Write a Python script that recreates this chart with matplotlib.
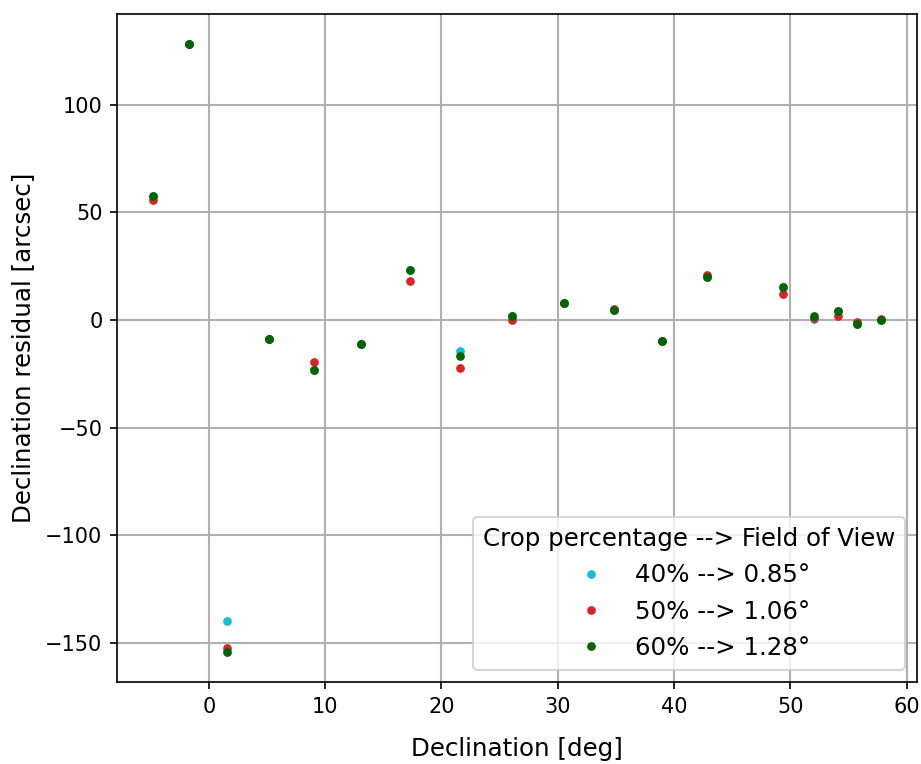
import matplotlib
matplotlib.use("Agg")
import matplotlib.pyplot as plt

dec = [-4.8, -1.7, 1.6, 5.2, 9.0, 13.05, 17.3, 21.6, 26.05, 30.5, 34.8, 39.0, 42.85, 49.4, 52.0, 54.1, 55.7, 57.8]
res_40 = [57.5, 128.0, -139.5, -8.8, -23.0, -11.3, 23.2, -14.4, 2.0, 7.9, 4.5, -9.7, 20.0, 15.2, 0.5, 4.3, -2.0, -0.2]
res_50 = [55.7, 128.0, -152.4, -8.8, -19.5, -11.3, 18.1, -22.3, -0.1, 7.7, 4.9, -9.7, 20.7, 12.1, 0.8, 2.0, -1.1, 0.4]
res_60 = [57.5, 128.0, -154.0, -8.8, -23.0, -11.3, 23.2, -16.7, 2.0, 7.7, 4.5, -9.7, 20.0, 15.2, 1.7, 4.3, -2.0, -0.2]
labels = ["40% --> 0.85°", "50% --> 1.06°", "60% --> 1.28°"]
colors = ["#17becf", "#d62728", "darkgreen"]

fig = plt.figure(figsize=(921/150, 764/150), dpi=150)
ax = fig.add_axes([117/921, 1-682/764, 800/921, 668/764])
for ys, lab, c in zip([res_40, res_50, res_60], labels, colors):
    ax.plot(dec, ys, 'o', ms=4.2, mew=0, color=c, label=lab, zorder=3)
ax.set_xlim(-7.9, 60.9)
ax.set_ylim(-168, 142)
ax.grid(True, color='#b0b0b0', lw=1)
ax.set_axisbelow(True)
ax.tick_params(labelsize=10)
ax.set_xlabel("Declination [deg]", fontsize=11.75, labelpad=10)
ax.set_ylabel("Declination residual [arcsec]", fontsize=11.75, labelpad=5)
ax.legend(title="Crop percentage --> Field of View", loc="lower right",
          fontsize=11.75, title_fontsize=11.75)
fig.savefig("out.png", dpi=150)
